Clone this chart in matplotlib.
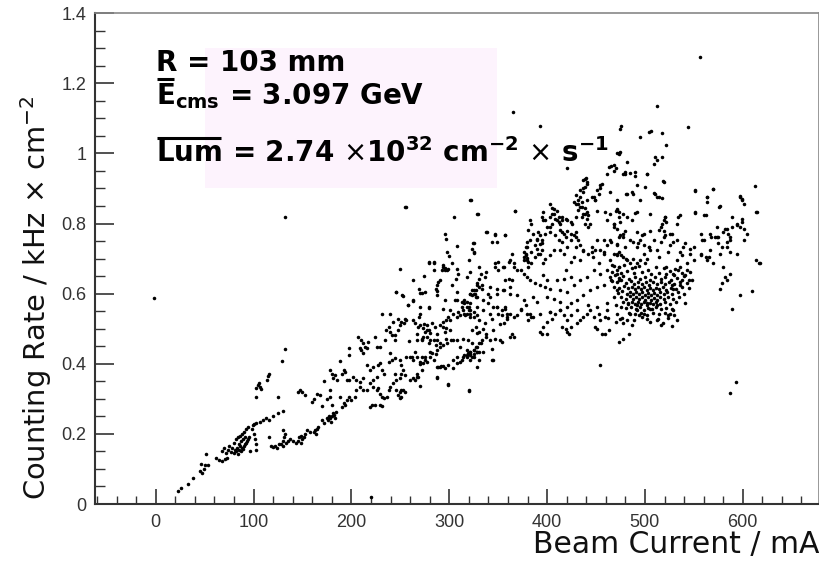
import matplotlib.pyplot as plt
from matplotlib.patches import Rectangle
from matplotlib.ticker import MultipleLocator, FuncFormatter

# Counting rate vs beam current, one point per run
# each entry: (beam current / mA, counting rate / kHz cm^-2)

low_current = [
    (-2, 0.587), (23, 0.038), (26, 0.045), (33, 0.057), (38, 0.074), (45, 0.095), (47, 0.088),
    (49, 0.1), (46, 0.115), (50, 0.11), (53, 0.112), (51, 0.142),
    (62, 0.13), (65, 0.125), (68, 0.123), (71, 0.127), (73, 0.13),
    (68, 0.15), (70, 0.16), (72, 0.145), (74, 0.155), (75, 0.165), (77, 0.148), (78, 0.16),
    (80, 0.145), (81, 0.155), (82, 0.15), (83, 0.16), (84, 0.142), (85, 0.155), (86, 0.165),
    (87, 0.15), (88, 0.16), (89, 0.158), (90, 0.165), (91, 0.17), (92, 0.175), (93, 0.18),
    (94, 0.185), (95, 0.19), (96, 0.15), (80, 0.175), (82, 0.185), (84, 0.19), (86, 0.195),
    (88, 0.2), (90, 0.205), (92, 0.215), (94, 0.22), (85, 0.17), (87, 0.18), (89, 0.185), (91, 0.19),
    (98, 0.215), (100, 0.2), (101, 0.185), (99, 0.225), (102, 0.17), (103, 0.155), (100, 0.228), (103, 0.23),
    (107, 0.235), (110, 0.24), (113, 0.245), (116, 0.24), (120, 0.25), (125, 0.26), (130, 0.265),
    (103, 0.305), (103, 0.33), (105, 0.34), (107, 0.335), (108, 0.328), (106, 0.345), (114, 0.355),
    (115, 0.365), (116, 0.37), (125, 0.306), (129, 0.408), (132, 0.443),
    (116, 0.19), (118, 0.165), (120, 0.162), (122, 0.165), (124, 0.16), (126, 0.17), (128, 0.17), (130, 0.165),
    (130, 0.18), (131, 0.19), (132, 0.2), (130, 0.21), (133, 0.175), (135, 0.18), (137, 0.185), (140, 0.18),
]

rising_start = [
    (143, 0.175), (145, 0.18), (146, 0.19), (148, 0.175), (150, 0.185), (152, 0.19), (153, 0.2),
    (149, 0.195), (155, 0.21), (158, 0.205), (162, 0.205), (163, 0.21), (164, 0.2), (165, 0.215),
    (166, 0.22), (170, 0.24), (172, 0.23), (175, 0.245), (177, 0.25),
    (176, 0.24), (178, 0.245), (180, 0.25), (182, 0.255), (183, 0.245), (181, 0.26), (179, 0.235), (184, 0.262),
    (145, 0.32), (147, 0.325), (150, 0.32), (153, 0.31), (160, 0.29), (162, 0.3), (165, 0.315),
    (168, 0.31), (170, 0.28), (175, 0.3), (172, 0.35),
]

mid_band = [
    (246, 0.605), (252, 0.596), (270, 0.602), (288, 0.596), (308, 0.605), (321, 0.6), (328, 0.591), (325, 0.61),
    (258, 0.567), (263, 0.58), (270, 0.542), (279, 0.558), (296, 0.581), (306, 0.581), (313, 0.577),
    (318, 0.562), (320, 0.553), (321, 0.543), (316, 0.539), (325, 0.548), (328, 0.539), (330, 0.525),
    (231, 0.542), (239, 0.542), (243, 0.52), (248, 0.529), (251, 0.52), (250, 0.51), (254, 0.515),
    (255, 0.529), (256, 0.525), (238, 0.506), (235, 0.496), (239, 0.491), (241, 0.482), (245, 0.482),
    (248, 0.496), (234, 0.467), (245, 0.467), (265, 0.515), (268, 0.506), (270, 0.51), (273, 0.501),
    (275, 0.491), (277, 0.51), (279, 0.496), (280, 0.487), (273, 0.477), (277, 0.477), (282, 0.515),
    (285, 0.506), (291, 0.51), (294, 0.52), (297, 0.525), (299, 0.534), (297, 0.501), (296, 0.491),
    (301, 0.496), (304, 0.543), (309, 0.548), (311, 0.539), (314, 0.553), (318, 0.543), (321, 0.534),
    (327, 0.506), (330, 0.491), (323, 0.496), (328, 0.487),
    (259, 0.466), (267, 0.467), (272, 0.467), (279, 0.458), (284, 0.467), (287, 0.467), (291, 0.458),
    (294, 0.453), (297, 0.472), (302, 0.467), (308, 0.467), (314, 0.472), (319, 0.467), (323, 0.458),
    (328, 0.448), (330, 0.434), (321, 0.434), (325, 0.42), (318, 0.42),
    (207, 0.477), (210, 0.467), (212, 0.458), (214, 0.448), (209, 0.444), (210, 0.439), (216, 0.444),
    (212, 0.43), (217, 0.463), (224, 0.477), (226, 0.448), (229, 0.447), (198, 0.444), (198, 0.425),
    (188, 0.409), (192, 0.382), (193, 0.377), (190, 0.372), (181, 0.358), (183, 0.368), (178, 0.325), (185, 0.353),
    (239, 0.43), (241, 0.41), (245, 0.415), (250, 0.41), (251, 0.396), (253, 0.382), (251, 0.372),
    (255, 0.368), (250, 0.358), (246, 0.353), (245, 0.372), (256, 0.42), (262, 0.42), (265, 0.434),
    (267, 0.42), (272, 0.42), (275, 0.41), (277, 0.406), (280, 0.42), (282, 0.43), (286, 0.428),
    (287, 0.439), (284, 0.41), (273, 0.401), (270, 0.406), (267, 0.372), (268, 0.363), (272, 0.382),
    (263, 0.358), (260, 0.353),
    (287, 0.392), (291, 0.39), (294, 0.393), (296, 0.387), (299, 0.396), (308, 0.401), (311, 0.406),
    (313, 0.41), (314, 0.42), (318, 0.425), (319, 0.43), (325, 0.439), (328, 0.434), (304, 0.387),
    (216, 0.396), (219, 0.382), (222, 0.391), (227, 0.396), (229, 0.401), (231, 0.382), (233, 0.372),
    (238, 0.406), (226, 0.363), (222, 0.353), (219, 0.344), (222, 0.334), (226, 0.325), (227, 0.33),
    (229, 0.315), (231, 0.306), (233, 0.301), (236, 0.306), (238, 0.325), (239, 0.334), (243, 0.344),
    (246, 0.325), (250, 0.32), (251, 0.325), (253, 0.325), (255, 0.32), (251, 0.306), (250, 0.301), (248, 0.311),
    (195, 0.353), (198, 0.353), (202, 0.363), (205, 0.353), (209, 0.349), (212, 0.358), (209, 0.334),
    (212, 0.325), (216, 0.325), (205, 0.325), (198, 0.306), (204, 0.306), (200, 0.297), (195, 0.297),
    (192, 0.287), (190, 0.278), (193, 0.282), (188, 0.306), (178, 0.306), (180, 0.282),
    (219, 0.277), (221, 0.282), (224, 0.282), (229, 0.282), (231, 0.279), (178, 0.382), (180, 0.372),
    (287, 0.361), (299, 0.339), (320, 0.325), (321, 0.425), (330, 0.41), (328, 0.391),
    (263, 0.524), (269, 0.533), (274, 0.514), (277, 0.495), (267, 0.486), (272, 0.472), (280, 0.467),
    (287, 0.486), (294, 0.505), (301, 0.524), (308, 0.533), (315, 0.543), (321, 0.553), (328, 0.562),
    (335, 0.581), (342, 0.59), (349, 0.6), (355, 0.609), (362, 0.619), (291, 0.448), (298, 0.458),
    (304, 0.467), (311, 0.448), (318, 0.438), (325, 0.429), (332, 0.458), (338, 0.476), (345, 0.495),
    (352, 0.514), (359, 0.533), (289, 0.391), (292, 0.393), (304, 0.41), (308, 0.419), (315, 0.424),
    (321, 0.434), (275, 0.419), (270, 0.4), (263, 0.41), (260, 0.419), (280, 0.434), (286, 0.453),
    (301, 0.553), (294, 0.557), (315, 0.581), (326, 0.6), (333, 0.614), (340, 0.6), (350, 0.543), (357, 0.562),
]

upper_band = [
    (256, 0.847), (322, 0.868), (329, 0.828), (305, 0.819), (296, 0.771), (297, 0.757), (308, 0.735),
    (324, 0.743), (325, 0.716), (298, 0.719), (300, 0.707), (320, 0.697), (250, 0.67), (279, 0.687),
    (284, 0.69), (284, 0.668), (294, 0.681), (296, 0.672), (298, 0.667), (293, 0.667), (299, 0.669),
    (309, 0.657), (274, 0.65), (263, 0.64), (291, 0.64), (289, 0.633), (287, 0.624), (286, 0.614),
    (287, 0.608), (303, 0.624), (307, 0.643), (330, 0.643), (328, 0.624), (327, 0.61), (325, 0.6),
    (323, 0.595), (321, 0.6), (330, 0.619), (246, 0.605), (253, 0.593), (269, 0.612), (272, 0.602),
    (275, 0.605), (263, 0.581), (258, 0.567), (270, 0.562), (279, 0.562), (308, 0.581), (315, 0.572),
    (318, 0.576), (320, 0.562), (313, 0.562),
    (367, 0.835), (339, 0.776), (347, 0.768), (357, 0.766), (323, 0.728), (279, 0.69), (284, 0.686),
    (294, 0.676), (296, 0.666), (303, 0.686), (308, 0.671), (318, 0.647), (321, 0.662), (330, 0.676),
    (338, 0.662), (347, 0.686), (350, 0.666), (355, 0.676), (361, 0.69), (366, 0.686),
    (379, 0.733), (378, 0.714), (376, 0.704), (379, 0.695), (381, 0.676), (384, 0.686), (388, 0.704),
    (391, 0.714), (393, 0.742), (395, 0.752), (390, 0.752), (398, 0.771), (400, 0.79), (396, 0.809),
    (403, 0.818), (405, 0.828), (407, 0.842), (410, 0.837), (412, 0.818), (413, 0.8), (415, 0.818),
    (417, 0.771), (420, 0.78), (424, 0.752), (430, 0.761), (432, 0.752), (430, 0.733), (434, 0.695),
    (437, 0.723), (439, 0.828), (441, 0.866), (437, 0.89), (434, 0.875), (432, 0.856), (436, 0.847),
    (439, 0.904), (441, 0.918), (437, 0.923), (446, 0.875), (449, 0.866), (451, 0.837), (456, 0.913),
    (464, 0.89), (471, 0.866), (482, 0.885), (487, 0.89), (478, 0.942), (463, 0.961), (468, 0.966),
    (473, 0.999), (475, 1.004), (464, 0.828), (470, 0.837), (461, 0.809), (468, 0.79), (478, 0.828),
    (480, 0.78), (487, 0.809), (492, 0.833), (495, 0.866), (500, 0.904), (502, 0.942), (510, 0.989),
    (512, 0.98), (519, 0.918), (510, 0.885), (514, 0.875),
]

peak_region = [
    (439, 0.928), (441, 0.914), (437, 0.9), (434, 0.895), (430, 0.88), (432, 0.866), (436, 0.861),
    (434, 0.847), (439, 0.843), (441, 0.833), (437, 0.828), (442, 0.824), (430, 0.857), (427, 0.861),
    (432, 0.838), (436, 0.819), (441, 0.814), (439, 0.8), (444, 0.8), (442, 0.79), (430, 0.819),
    (454, 0.909), (451, 0.895), (453, 0.885), (448, 0.876), (449, 0.866),
    (459, 0.833), (471, 0.838), (473, 0.819), (468, 0.8), (471, 0.785),
    (403, 0.857), (405, 0.843), (407, 0.828), (408, 0.814), (410, 0.809), (412, 0.804), (415, 0.809),
    (419, 0.814), (420, 0.809), (424, 0.804), (425, 0.8), (405, 0.8), (403, 0.79), (403, 0.776),
    (413, 0.781), (415, 0.776), (408, 0.767), (412, 0.752), (415, 0.747), (419, 0.762), (424, 0.771),
    (427, 0.767), (430, 0.776), (396, 0.833), (395, 0.819), (398, 0.809), (367, 0.836),
    (383, 0.809), (384, 0.8), (381, 0.781), (386, 0.771), (391, 0.776), (393, 0.767), (390, 0.757),
    (395, 0.743), (388, 0.738), (383, 0.752), (379, 0.747), (378, 0.733), (376, 0.719), (378, 0.709),
    (379, 0.703), (376, 0.695), (381, 0.69), (384, 0.719), (390, 0.728), (393, 0.714), (395, 0.724),
    (398, 0.7), (396, 0.686), (403, 0.709), (407, 0.724), (413, 0.724), (417, 0.714), (424, 0.69),
    (427, 0.705), (420, 0.733), (434, 0.738), (437, 0.724), (442, 0.714), (446, 0.719), (449, 0.724),
    (454, 0.724), (458, 0.719), (461, 0.738), (465, 0.747), (471, 0.738), (473, 0.719), (468, 0.714),
    (328, 0.828), (338, 0.776), (347, 0.771), (357, 0.767), (349, 0.747), (344, 0.747), (325, 0.743),
    (325, 0.719), (321, 0.868),
    (364, 0.714), (350, 0.69), (347, 0.676), (362, 0.695), (366, 0.676), (356, 0.676), (369, 0.667),
    (373, 0.667), (376, 0.657), (379, 0.648), (383, 0.638), (388, 0.629), (393, 0.624), (398, 0.619),
    (403, 0.614), (400, 0.638), (396, 0.652), (410, 0.638), (417, 0.643), (424, 0.648), (419, 0.667),
    (332, 0.657), (337, 0.648), (328, 0.629), (333, 0.624), (342, 0.619), (349, 0.614), (357, 0.638),
    (361, 0.643), (364, 0.638), (356, 0.61), (362, 0.6), (369, 0.595), (376, 0.581), (386, 0.591),
    (390, 0.576), (400, 0.591), (407, 0.586), (413, 0.576), (424, 0.572), (431, 0.581), (437, 0.595),
    (444, 0.61), (451, 0.619), (458, 0.624), (465, 0.638), (471, 0.657), (473, 0.676), (466, 0.681),
    (461, 0.667), (454, 0.657), (448, 0.667), (441, 0.648), (434, 0.638), (427, 0.624), (420, 0.605),
    (413, 0.61), (340, 0.572), (349, 0.562), (354, 0.553), (359, 0.543), (366, 0.534), (373, 0.553),
    (379, 0.543), (386, 0.534), (393, 0.543), (403, 0.548), (413, 0.553), (420, 0.562), (431, 0.553),
    (441, 0.543), (451, 0.562), (461, 0.572), (468, 0.591), (471, 0.61), (473, 0.638), (335, 0.553),
    (327, 0.591), (323, 0.61), (321, 0.572), (325, 0.534),
]

lower_band = [
    (473, 0.462), (478, 0.472), (484, 0.484),
    (516, 0.51), (512, 0.524), (526, 0.543), (529, 0.553), (524, 0.538), (499, 0.543), (502, 0.529),
    (505, 0.557), (494, 0.538), (492, 0.553), (485, 0.543), (482, 0.524), (478, 0.515), (475, 0.529),
    (471, 0.543), (470, 0.567), (476, 0.562), (483, 0.572), (492, 0.567), (502, 0.572), (512, 0.567),
    (463, 0.496), (459, 0.486), (456, 0.486), (451, 0.5), (449, 0.505), (454, 0.524), (459, 0.534),
    (461, 0.553), (453, 0.543), (448, 0.534), (444, 0.553), (442, 0.567), (437, 0.534), (434, 0.524),
    (431, 0.515), (424, 0.505), (420, 0.491), (422, 0.486), (419, 0.5), (415, 0.505), (420, 0.524),
    (424, 0.538), (417, 0.538), (413, 0.553), (408, 0.543), (405, 0.529), (403, 0.548), (400, 0.519),
    (396, 0.505), (393, 0.491), (395, 0.486), (400, 0.486), (384, 0.534), (383, 0.543), (381, 0.524),
    (378, 0.567), (373, 0.557), (369, 0.538), (362, 0.543), (359, 0.529), (356, 0.515), (354, 0.538),
    (357, 0.557), (349, 0.562), (345, 0.562), (342, 0.543), (344, 0.529), (337, 0.515), (335, 0.5),
    (338, 0.486), (333, 0.467), (342, 0.467), (347, 0.472), (352, 0.467), (354, 0.462), (366, 0.477),
    (364, 0.486), (362, 0.477), (330, 0.458), (327, 0.448), (325, 0.439), (321, 0.429), (323, 0.42),
    (328, 0.434), (335, 0.434), (344, 0.443), (344, 0.41), (321, 0.41),
]

dense_cluster = [
    (468, 0.68), (474, 0.675), (479, 0.682), (487, 0.672), (494, 0.678), (503, 0.668), (511, 0.676),
    (519, 0.672), (526, 0.665), (534, 0.668),
    (466, 0.662), (471, 0.668), (476, 0.66), (482, 0.665), (489, 0.658), (497, 0.662), (506, 0.655),
    (514, 0.66), (522, 0.655), (530, 0.652), (538, 0.66),
    (464, 0.648), (469, 0.652), (473, 0.645), (478, 0.65), (484, 0.642), (490, 0.648), (495, 0.641),
    (500, 0.646), (505, 0.64), (510, 0.647), (516, 0.642), (521, 0.648), (527, 0.64), (533, 0.645), (540, 0.65),
    (466, 0.636), (471, 0.632), (476, 0.638), (481, 0.63), (486, 0.635), (489, 0.628), (493, 0.633),
    (497, 0.627), (501, 0.634), (504, 0.626), (508, 0.632), (512, 0.628), (516, 0.634), (520, 0.627),
    (525, 0.632), (530, 0.628), (536, 0.634), (543, 0.63),
    (468, 0.62), (474, 0.617), (479, 0.622), (483, 0.615), (487, 0.62), (490, 0.613), (493, 0.619),
    (496, 0.612), (499, 0.618), (502, 0.611), (505, 0.617), (508, 0.61), (511, 0.616), (514, 0.612),
    (518, 0.618), (522, 0.611), (527, 0.617), (532, 0.612), (538, 0.618), (545, 0.615),
    (472, 0.603), (477, 0.607), (482, 0.6), (485, 0.606), (488, 0.599), (491, 0.605), (494, 0.598),
    (497, 0.604), (500, 0.597), (503, 0.603), (506, 0.596), (509, 0.602), (512, 0.597), (515, 0.604),
    (519, 0.598), (523, 0.605), (528, 0.6), (534, 0.604), (540, 0.6),
    (476, 0.59), (481, 0.586), (485, 0.592), (488, 0.585), (491, 0.591), (494, 0.584), (497, 0.59),
    (500, 0.583), (503, 0.589), (506, 0.582), (509, 0.588), (512, 0.583), (515, 0.59), (519, 0.585),
    (524, 0.59), (529, 0.586), (535, 0.591),
    (478, 0.575), (483, 0.571), (487, 0.577), (490, 0.57), (493, 0.576), (496, 0.569), (499, 0.575),
    (502, 0.568), (505, 0.574), (508, 0.569), (511, 0.576), (515, 0.57), (520, 0.575), (526, 0.571), (532, 0.577),
    (481, 0.558), (486, 0.562), (491, 0.555), (495, 0.561), (499, 0.554), (503, 0.56), (507, 0.555),
    (511, 0.561), (516, 0.556), (522, 0.56), (528, 0.557),
    (484, 0.545), (490, 0.541), (496, 0.546), (502, 0.54), (508, 0.545), (514, 0.541), (521, 0.546), (530, 0.54),
    (477, 0.53), (489, 0.525), (497, 0.532), (505, 0.52), (513, 0.528), (524, 0.53), (533, 0.525),
    (487, 0.51), (518, 0.515), (528, 0.508), (470, 0.52), (462, 0.53),
]

high_current = [
    (480, 0.947), (490, 0.947), (502, 0.94), (518, 0.92), (492, 0.909), (481, 0.885), (488, 0.885),
    (509, 0.887), (512, 0.876), (517, 0.874), (471, 0.84), (474, 0.833), (490, 0.83), (482, 0.819),
    (468, 0.8), (475, 0.804), (521, 0.819), (519, 0.809), (517, 0.8), (516, 0.79), (514, 0.781),
    (533, 0.8), (536, 0.823), (551, 0.895), (570, 0.897), (563, 0.876), (563, 0.861), (577, 0.849),
    (597, 0.878), (599, 0.871), (601, 0.855), (612, 0.906), (614, 0.833), (551, 0.83), (562, 0.823),
    (589, 0.819), (599, 0.814), (594, 0.8), (597, 0.79), (601, 0.785), (584, 0.785), (574, 0.79),
    (580, 0.776), (585, 0.771), (587, 0.762), (584, 0.747), (587, 0.719), (579, 0.733), (575, 0.743),
    (568, 0.762), (572, 0.762), (575, 0.762), (557, 0.771), (558, 0.752), (567, 0.724), (565, 0.705),
    (562, 0.705), (557, 0.71), (550, 0.733), (550, 0.695), (546, 0.728), (541, 0.743), (536, 0.719),
    (538, 0.709), (533, 0.695), (531, 0.671), (543, 0.667), (546, 0.662), (541, 0.652), (545, 0.638),
    (548, 0.638), (538, 0.638), (536, 0.624), (528, 0.624), (529, 0.614), (614, 0.695), (617, 0.686),
    (582, 0.648), (584, 0.638), (579, 0.629), (577, 0.614), (597, 0.595), (609, 0.608), (589, 0.557),
    (473, 0.762), (475, 0.767), (478, 0.762), (492, 0.776), (497, 0.767), (495, 0.752), (493, 0.743),
    (488, 0.747), (499, 0.738), (504, 0.733), (505, 0.724), (502, 0.7), (500, 0.686), (480, 0.733),
    (476, 0.709), (471, 0.709), (481, 0.7), (488, 0.7), (492, 0.686), (485, 0.686), (512, 0.724),
    (514, 0.705), (516, 0.747), (519, 0.762), (521, 0.767), (528, 0.771), (529, 0.747), (526, 0.738), (524, 0.719),
    (499, 0.771), (505, 0.78), (509, 0.752), (504, 0.733), (499, 0.714), (495, 0.695), (490, 0.676),
    (482, 0.695), (478, 0.704), (471, 0.714), (464, 0.695), (458, 0.714), (453, 0.686), (447, 0.704),
    (446, 0.733), (451, 0.752), (458, 0.752), (464, 0.752), (471, 0.742), (478, 0.771), (485, 0.752),
    (492, 0.733), (505, 0.828), (521, 0.818), (522, 0.804), (534, 0.818), (519, 0.78), (526, 0.771),
    (533, 0.752), (539, 0.733), (546, 0.714), (543, 0.686), (536, 0.676), (529, 0.657), (522, 0.676),
    (551, 0.893), (570, 0.897), (563, 0.876), (576, 0.847), (551, 0.833), (560, 0.823), (582, 0.785),
    (589, 0.79), (594, 0.795), (599, 0.804), (597, 0.876), (599, 0.866), (615, 0.833), (618, 0.686),
    (567, 0.771), (574, 0.761), (560, 0.752), (557, 0.714), (563, 0.695), (570, 0.686), (577, 0.714),
    (584, 0.733), (587, 0.752), (580, 0.676), (587, 0.657), (594, 0.714), (601, 0.752), (604, 0.771),
]

outliers = [
    (220, 0.02), (132, 0.818), (255, 0.847),
    (320, 0.322), (299, 0.342), (287, 0.359), (345, 0.41), (270, 0.336), (267, 0.363), (265, 0.353),
    (454, 0.396), (593, 0.349), (587, 0.317), (541, 0.572),
    (556, 1.276), (512, 1.134), (365, 1.117), (393, 1.077), (475, 1.07), (476, 1.078), (544, 1.074),
    (504, 1.06), (506, 1.064), (495, 1.046), (517, 1.057), (522, 1.023), (471, 1.0), (474, 1.002),
    (509, 0.97), (517, 0.99), (482, 0.974), (465, 0.963), (470, 0.958), (468, 0.95), (480, 0.94),
    (485, 0.945), (490, 0.935), (461, 0.94), (420, 0.958), (440, 0.93), (454, 0.9),
]

runs = (low_current + rising_start + mid_band + upper_band + peak_region
        + lower_band + dense_cluster + high_current + outliers)
beam_current = [p[0] for p in runs]
counting_rate = [p[1] for p in runs]

plt.rcParams['font.family'] = ['Liberation Sans', 'DejaVu Sans']
plt.rcParams['mathtext.fontset'] = 'dejavusans'

fig = plt.figure(figsize=(8.2, 5.61), dpi=100)
ax = fig.add_axes([0.1159, 0.1016, 0.883, 0.875])

ax.scatter(beam_current, counting_rate, s=6.5, c='black', linewidths=0, zorder=3)

ax.set_xlim(-62, 678)
ax.set_ylim(0, 1.4)

# info box
box_font = dict(family='DejaVu Sans', fontsize=20, fontweight='bold', va='baseline', zorder=4)
ax.add_patch(Rectangle((50, 0.9), 299, 0.4, facecolor='#fdf3fd', edgecolor='none', zorder=1))
ax.text(0, 1.234, "R = 103 mm", **box_font)
ax.text(0, 1.14, r"$\mathbf{E}_{\mathbf{cms}}$ = 3.097 GeV", **box_font)
ax.text(0, 0.974, r"Lum = 2.74 $\times$10$^{\mathbf{32}}$ cm$^{\mathbf{-2}}$ $\times$ s$^{\mathbf{-1}}$",
        **box_font)


def overline(x, y, word):
    # bar over the leading word of a line, width taken from the rendered glyphs
    probe = ax.text(x, y, word, alpha=0, **box_font)
    fig.canvas.draw()
    bb = probe.get_window_extent()
    probe.remove()
    inv = ax.transData.inverted()
    x0, _ = inv.transform((bb.x0 + 1, bb.y0))
    x1, _ = inv.transform((bb.x1 - 1, bb.y0))
    ybar = y + 25 / 351
    ax.plot([x0, x1], [ybar, ybar], color='black', lw=2.2, solid_capstyle='butt', zorder=4)


overline(0, 1.14, "E")
overline(0, 0.974, "Lum")

# ticks
ax.xaxis.set_major_locator(MultipleLocator(100))
ax.xaxis.set_minor_locator(MultipleLocator(20))
ax.yaxis.set_major_locator(MultipleLocator(0.2))
ax.yaxis.set_minor_locator(MultipleLocator(0.05))
ax.yaxis.set_major_formatter(FuncFormatter(lambda v, p: '%g' % round(v, 2)))
ax.tick_params(which='both', direction='in', top=False, right=False, color='#333333')
ax.tick_params(axis='y', which='major', length=14, width=1.2, labelsize=13, labelcolor='#333333', pad=6)
ax.tick_params(axis='y', which='minor', length=7, width=1.0)
ax.tick_params(axis='x', which='major', length=11, width=1.2, labelsize=13, labelcolor='#333333', pad=7)
ax.tick_params(axis='x', which='minor', length=5.5, width=1.0)

for side in ['left', 'bottom']:
    ax.spines[side].set_color('#333333')
    ax.spines[side].set_linewidth(1.5)
for side in ['top', 'right']:
    ax.spines[side].set_color('#888888')
    ax.spines[side].set_linewidth(1.2)

ax.set_xlabel("Beam Current / mA", family='DejaVu Sans', fontsize=21.5, loc='right', color='#111111')
ax.xaxis.set_label_coords(1.0, -0.052)
ax.set_ylabel(r"Counting Rate / kHz $\times$ cm$^{-2}$", family='DejaVu Sans', fontsize=20.8,
              loc='top', color='#111111')
ax.yaxis.set_label_coords(-0.056, 0.833)

plt.savefig("out.png", dpi=100)
